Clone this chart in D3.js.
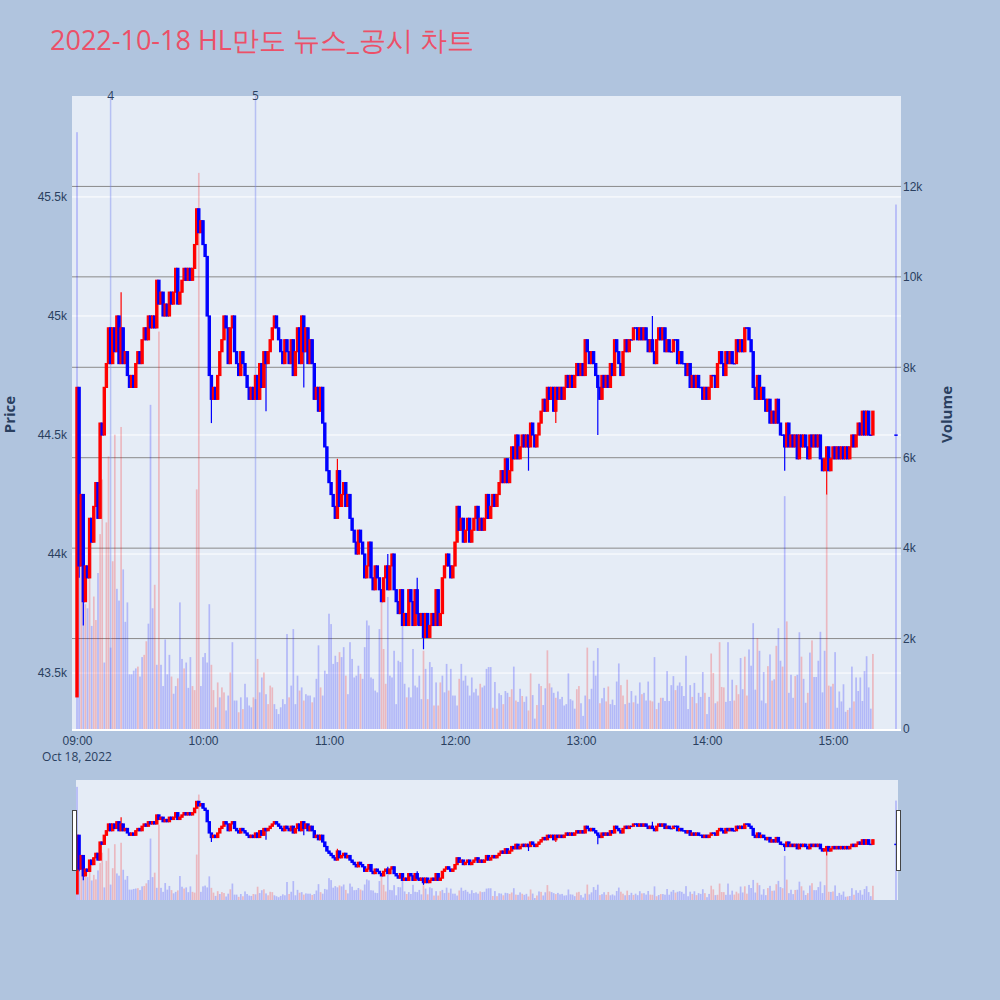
<!DOCTYPE html>
<html lang="ko">
<head>
<meta charset="UTF-8">
<title>HL만도 뉴스_공시 차트</title>
<script src="https://cdn.jsdelivr.net/npm/d3@7"></script>
<style>
    body { margin: 0; background: #b0c4de; }
    svg { display: block; font-family: "Open Sans", verdana, arial, sans-serif; }
</style>
</head>
<body>
<div id="chart"></div>
<script>
    // per-minute candles from 09:00, open = previous close
    const startTime = "2022-10-18 09:00";
    const firstOpen = 43400;
    const closes = [
        44700, 43950, 44250, 43800, 43950, 43900, 44150, 44050, 44200, 44300,
        44150, 44550, 44500, 44700, 44800, 44950, 44800, 44950, 44850, 45000,
        44800, 44950, 44800, 44850, 44750, 44700, 44750, 44700, 44800, 44850,
        44800, 44900, 44950, 44900, 45000, 44950, 45000, 44950, 45150, 45050,
        45100, 45000, 45050, 45000, 45100, 45050, 45100, 45200, 45050, 45100,
        45150, 45200, 45150, 45200, 45150, 45200, 45300, 45450, 45350, 45400,
        45300, 45250, 45000, 44750, 44650, 44700, 44650, 44750, 44850, 44900,
        45000, 44950, 44800, 44950, 45000, 44850, 44800, 44750, 44850, 44800,
        44750, 44700, 44650, 44700, 44650, 44750, 44650, 44800, 44700, 44850,
        44800, 44850, 44900, 44950, 45000, 44950, 44900, 44850, 44800, 44900,
        44850, 44800, 44900, 44750, 44850, 44950, 44800, 45000, 44850, 44950,
        44800, 44900, 44800, 44650, 44700, 44600, 44700, 44550, 44450, 44350,
        44300, 44250, 44200, 44150, 44350, 44200, 44250, 44300, 44200, 44250,
        44150, 44100, 44050, 44000, 44100, 44050, 44000, 43900, 43950, 44050,
        43900, 43850, 43950, 43900, 43850, 43800, 43900, 43950, 43850, 43950,
        44000, 43850, 43800, 43750, 43850, 43700, 43750, 43700, 43850, 43800,
        43700, 43850, 43750, 43700, 43750, 43650, 43750, 43650, 43700, 43750,
        43700, 43850, 43700, 43750, 43900, 43950, 44000, 43950, 43900, 43950,
        44050, 44200, 44100, 44150, 44050, 44100, 44150, 44050, 44100, 44150,
        44200, 44100, 44150, 44100, 44150, 44250, 44150, 44200, 44250, 44200,
        44250, 44300, 44350, 44300, 44400, 44300, 44350, 44450, 44400, 44500,
        44400, 44450, 44500, 44450, 44500, 44450, 44550, 44500, 44450, 44500,
        44550, 44600, 44650, 44600, 44700, 44650, 44700, 44600, 44700, 44650,
        44700, 44650, 44700, 44750, 44700, 44750, 44700, 44750, 44800, 44750,
        44800, 44750, 44900, 44850, 44800, 44850, 44800, 44750, 44700, 44650,
        44750, 44700, 44750, 44700, 44800, 44750, 44900, 44850, 44800, 44750,
        44850, 44900, 44850, 44900, 44900, 44950, 44950, 44900, 44950, 44900,
        44950, 44900, 44850, 44900, 44850, 44800, 44900, 44950, 44900, 44950,
        44850, 44900, 44850, 44850, 44900, 44900, 44800, 44850, 44800, 44800,
        44750, 44800, 44700, 44750, 44700, 44750, 44700, 44700, 44650, 44700,
        44650, 44700, 44750, 44750, 44700, 44800, 44850, 44800, 44750, 44850,
        44800, 44850, 44800, 44800, 44900, 44850, 44900, 44850, 44950, 44950,
        44900, 44850, 44700, 44650, 44750, 44650, 44700, 44650, 44600, 44650,
        44550, 44600, 44550, 44650, 44550, 44500, 44500, 44450, 44550, 44450,
        44500, 44450, 44500, 44400, 44500, 44450, 44500, 44450, 44400, 44500,
        44450, 44500, 44450, 44500, 44400, 44350, 44400, 44450, 44350, 44400,
        44450, 44400, 44450, 44400, 44450, 44400, 44450, 44400, 44450, 44500,
        44450, 44500, 44550, 44500, 44600, 44500, 44600, 44500, 44500, 44600
    ];
    const volumes = [
        13200, 6980, 5170, 3450, 2760, 2670, 3530, 2280, 2930, 2410,
        3450, 4310, 5520, 1470, 4570, 6030, 1800, 3710, 6510, 3100,
        2840, 6680, 3530, 2370, 2800, 1210, 1210, 1290, 1340, 1380,
        1160, 1590, 1640, 1940, 2330, 7170, 2670, 3190, 1420, 8790,
        1420, 950, 1980, 1210, 1640, 1160, 780, 950, 1120, 2800,
        1550, 1340, 1470, 910, 1590, 950, 860, 5300, 12300, 950,
        1590, 1680, 1470, 2760, 1420, 860, 480, 1030, 700, 920,
        810, 410, 740, 1250, 1920, 630, 630, 370, 700, 440,
        1000, 700, 520, 480, 700, 660, 1550, 810, 1140, 1250,
        770, 550, 960, 920, 550, 440, 330, 480, 660, 550,
        2100, 700, 960, 2210, 550, 1180, 850, 920, 630, 770,
        740, 740, 590, 700, 1110, 1850, 920, 740, 1290, 1220,
        2550, 2320, 1440, 1620, 1480, 1700, 1590, 1810, 1180, 770,
        1920, 1550, 1140, 1180, 1400, 1220, 1110, 1810, 2400, 2290,
        1140, 1110, 850, 810, 2210, 2880, 1770, 1000, 2920, 1180,
        1140, 1730, 550, 1510, 1480, 2400, 1000, 700, 920, 700,
        1770, 960, 920, 1180, 660, 1730, 1330, 660, 1480, 1370,
        520, 1030, 520, 1030, 1180, 810, 1440, 850, 1330, 740,
        740, 520, 1110, 1440, 1070, 1180, 960, 740, 1140, 810,
        890, 740, 1000, 920, 960, 1330, 1370, 1370, 470, 1040,
        450, 790, 750, 550, 840, 800, 710, 880, 1380, 630,
        600, 890, 730, 600, 720, 410, 1230, 750, 230, 530,
        1000, 950, 530, 900, 1740, 1010, 920, 800, 690, 830,
        660, 710, 520, 550, 1230, 660, 630, 450, 880, 950,
        570, 290, 740, 1800, 660, 890, 1510, 1180, 1790, 570,
        680, 910, 610, 940, 550, 650, 530, 1050, 1450, 970,
        740, 550, 1090, 580, 840, 590, 740, 560, 1030, 770,
        800, 630, 1050, 630, 610, 1590, 440, 580, 690, 690,
        620, 1280, 620, 970, 1170, 860, 960, 1030, 950, 730,
        1620, 440, 970, 710, 1020, 570, 800, 710, 1260, 800,
        330, 710, 1670, 1240, 570, 610, 1920, 930, 920, 600,
        1920, 620, 1090, 630, 970, 770, 1570, 880, 1600, 740,
        1760, 1400, 2340, 870, 2010, 1730, 630, 1260, 570, 1390,
        1650, 1070, 1100, 1840, 2230, 1510, 1380, 5150, 2380, 800,
        1200, 690, 1170, 1200, 2140, 1600, 1110, 580, 800, 1690,
        1960, 1150, 1150, 1510, 2150, 810, 1730, 5200, 960, 940,
        1000, 1700, 470, 830, 610, 990, 380, 420, 470, 1380,
        610, 1140, 840, 1140, 620, 1280, 1610, 920, 450, 1660
    ];
    // minutes whose volume bar is drawn red (the rest are blue)
    const volumeUp = [
        2, 4, 6, 8, 9, 11, 12, 14, 15, 17, 18, 21, 29, 32, 33, 37, 39, 45, 48, 51,
        55, 56, 57, 58, 64, 65, 67, 69, 70, 73, 77, 79, 84, 86, 89, 91, 92, 93, 101, 106,
        108, 112, 116, 125, 128, 135, 145, 146, 147, 157, 165, 167, 170, 172, 173, 177, 182, 192,
        198, 200, 203, 206, 207, 209, 212, 215, 216, 219, 221, 224, 225, 228, 238, 239, 243,
        249, 252, 253, 259, 260, 262, 265, 269, 273, 274, 276, 278, 285, 293, 295, 299, 302,
        303, 305, 306, 307, 308, 313, 314, 315, 318, 319, 324, 329, 331, 333, 336, 338, 342,
        345, 348, 350, 357, 358, 360, 367, 370, 379
    ];
    // [minute index, high, low] where the wick goes past the body
    const wicks = [
        [1, 44700, 43900], [3, 44250, 43700], [21, 45100, 44800], [64, 44750, 44550],
        [90, 44850, 44600], [108, 45000, 44700], [124, 44400, 44150], [148, 44000, 43850],
        [162, 43900, 43700], [165, 43750, 43600], [215, 44500, 44350], [228, 44700, 44550],
        [248, 44750, 44500], [274, 45000, 44850], [337, 44500, 44350], [357, 44450, 44250]
    ];
    const auction = {time: "15:30", open: 44500, close: 44500, volume: 11600};
    const newsMarks = [{time: "09:16", label: "4"}, {time: "10:25", label: "5"}];
    const priceTicks = [43500, 44000, 44500, 45000, 45500];
    const volumeTicks = [0, 2000, 4000, 6000, 8000, 10000, 12000];
    const hourTicks = ["09:00", "10:00", "11:00", "12:00", "13:00", "14:00", "15:00"];

    const width = 1000, height = 1000;
    const plot = {left: 72, right: 901, top: 96, bottom: 729};
    const slider = {left: 76, right: 898, top: 780, bottom: 900};
    const textColor = "#2a3f5f";
    const upColor = "#ff0000", downColor = "#0000ff";

    const parse = d3.timeParse("%Y-%m-%d %H:%M");
    const t0 = parse(startTime);
    const atTime = s => parse("2022-10-18 " + s);

    const wickMap = new Map(wicks.map(w => [w[0], w]));
    const upSet = new Set(volumeUp);
    const candles = closes.map((c, i) => {
        const o = i === 0 ? firstOpen : closes[i - 1];
        const w = wickMap.get(i);
        return {
            t: d3.timeMinute.offset(t0, i), o: o, c: c, v: volumes[i], vUp: upSet.has(i),
            h: Math.max(o, c, w ? w[1] : -Infinity),
            l: Math.min(o, c, w ? w[2] : Infinity)
        };
    });
    candles.push({
        t: atTime(auction.time), o: auction.open, c: auction.close, v: auction.volume, vUp: false,
        h: Math.max(auction.open, auction.close), l: Math.min(auction.open, auction.close)
    });

    const x = d3.scaleTime()
        .domain([d3.timeSecond.offset(t0, -143), d3.timeSecond.offset(t0, 23543)])
        .range([plot.left, plot.right]);
    const yPrice = d3.scaleLinear().domain([43265, 45924]).range([plot.bottom, plot.top]);
    const yVol = d3.scaleLinear().domain([0, 14000]).range([plot.bottom, plot.top]);
    const ysPrice = d3.scaleLinear().domain([43265, 45924]).range([slider.bottom, slider.top]);
    const ysVol = d3.scaleLinear().domain([0, 14000]).range([slider.bottom, slider.top]);

    const colorOf = d => d.c > d.o ? upColor : downColor;
    const volColor = d => d.vUp ? upColor : downColor;
    const fmtK = d3.format("~s");

    const svg = d3.select("#chart").append("svg")
        .attr("width", width)
        .attr("height", height);

    svg.append("rect").attr("width", width).attr("height", height).attr("fill", "#b0c4de");

    // title
    svg.append("text")
        .attr("x", 50).attr("y", 50)
        .attr("font-size", 27)
        .attr("fill", "#ec5068")
        .text("2022-10-18 HL만도 뉴스_공시 차트");

    const defs = svg.append("defs");
    defs.append("clipPath").attr("id", "plotClip").append("rect")
        .attr("x", plot.left).attr("y", plot.top)
        .attr("width", plot.right - plot.left).attr("height", plot.bottom - plot.top);
    defs.append("clipPath").attr("id", "sliderClip").append("rect")
        .attr("x", slider.left).attr("y", slider.top)
        .attr("width", slider.right - slider.left).attr("height", slider.bottom - slider.top);

    // main plot background + grids
    svg.append("rect")
        .attr("x", plot.left).attr("y", plot.top)
        .attr("width", plot.right - plot.left).attr("height", plot.bottom - plot.top)
        .attr("fill", "#e5ecf6");

    svg.append("g").selectAll("line")
        .data(priceTicks)
        .enter().append("line")
        .attr("x1", plot.left).attr("x2", plot.right)
        .attr("y1", d => yPrice(d)).attr("y2", d => yPrice(d))
        .attr("stroke", "#fff").attr("stroke-width", 1);

    svg.append("g").selectAll("line")
        .data(volumeTicks.filter(d => d > 0))
        .enter().append("line")
        .attr("x1", plot.left).attr("x2", plot.right)
        .attr("y1", d => yVol(d)).attr("y2", d => yVol(d))
        .attr("stroke", "#8a8a8a").attr("stroke-width", 1);

    const main = svg.append("g").attr("clip-path", "url(#plotClip)");

    // volume bars
    main.append("g").selectAll("rect")
        .data(candles)
        .enter().append("rect")
        .attr("x", d => x(d.t) - 0.85)
        .attr("width", 1.7)
        .attr("y", d => yVol(d.v))
        .attr("height", d => yVol(0) - yVol(d.v))
        .attr("fill", volColor)
        .attr("fill-opacity", 0.22);

    // news markers
    main.append("g").selectAll("line")
        .data(newsMarks)
        .enter().append("line")
        .attr("x1", d => x(atTime(d.time))).attr("x2", d => x(atTime(d.time)))
        .attr("y1", plot.top).attr("y2", plot.bottom)
        .attr("stroke", "#7d8cf0").attr("stroke-opacity", 0.45).attr("stroke-width", 1.5);

    function drawCandles(g, ys, bodyW) {
        g.append("g").selectAll("line")
            .data(candles)
            .enter().append("line")
            .attr("x1", d => x(d.t)).attr("x2", d => x(d.t))
            .attr("y1", d => ys(d.h)).attr("y2", d => ys(d.l))
            .attr("stroke", colorOf).attr("stroke-width", 1.2);
        g.append("g").selectAll("rect")
            .data(candles)
            .enter().append("rect")
            .attr("x", d => x(d.t) - bodyW / 2)
            .attr("width", bodyW)
            .attr("y", d => ys(Math.max(d.o, d.c)))
            .attr("height", d => Math.max(ys(Math.min(d.o, d.c)) - ys(Math.max(d.o, d.c)), 0.3))
            .attr("fill", colorOf)
            .attr("stroke", colorOf).attr("stroke-width", 1.2);
    }
    drawCandles(main, yPrice, 2.2);

    // volume zero line
    svg.append("line")
        .attr("x1", plot.left).attr("x2", plot.right)
        .attr("y1", yVol(0) + 1).attr("y2", yVol(0) + 1)
        .attr("stroke", "#fff").attr("stroke-width", 2);

    svg.selectAll(".newsLabel")
        .data(newsMarks)
        .enter().append("text")
        .attr("class", "newsLabel")
        .attr("x", d => x(atTime(d.time)))
        .attr("y", plot.top)
        .attr("dy", "0.35em")
        .attr("text-anchor", "middle")
        .attr("font-size", 12)
        .attr("fill", textColor)
        .text(d => d.label);

    // axes
    const xAxis = svg.append("g")
        .attr("transform", `translate(0,${plot.bottom + 4})`)
        .call(d3.axisBottom(x)
            .tickValues(hourTicks.map(atTime))
            .tickFormat(d3.timeFormat("%H:%M"))
            .tickSize(0));
    xAxis.select(".domain").remove();
    xAxis.selectAll("text").attr("font-size", 12).attr("fill", textColor)
        .attr("font-family", null);

    svg.append("text")
        .attr("x", x(t0)).attr("y", 761)
        .attr("text-anchor", "middle")
        .attr("font-size", 12)
        .attr("fill", textColor)
        .text("Oct 18, 2022");

    const yAxisL = svg.append("g")
        .attr("transform", `translate(${plot.left - 2},0)`)
        .call(d3.axisLeft(yPrice).tickValues(priceTicks).tickFormat(fmtK).tickSize(0));
    yAxisL.select(".domain").remove();
    yAxisL.selectAll("text").attr("font-size", 12).attr("fill", textColor).attr("font-family", null);

    const yAxisR = svg.append("g")
        .attr("transform", `translate(${plot.right - 1},0)`)
        .call(d3.axisRight(yVol).tickValues(volumeTicks).tickFormat(fmtK).tickSize(0));
    yAxisR.select(".domain").remove();
    yAxisR.selectAll("text").attr("font-size", 12).attr("fill", textColor).attr("font-family", null);

    svg.append("text")
        .attr("transform", `translate(15,${(plot.top + plot.bottom) / 2 + 2}) rotate(-90)`)
        .attr("text-anchor", "middle")
        .attr("font-size", 15).attr("font-weight", "bold")
        .attr("fill", textColor)
        .text("Price");

    svg.append("text")
        .attr("transform", `translate(952,${(plot.top + plot.bottom) / 2 + 2}) rotate(-90)`)
        .attr("text-anchor", "middle")
        .attr("font-size", 15).attr("font-weight", "bold")
        .attr("fill", textColor)
        .text("Volume");

    // range slider
    svg.append("rect")
        .attr("x", slider.left).attr("y", slider.top)
        .attr("width", slider.right - slider.left).attr("height", slider.bottom - slider.top)
        .attr("fill", "#e5ecf6");

    const mini = svg.append("g").attr("clip-path", "url(#sliderClip)");
    mini.append("g").selectAll("rect")
        .data(candles)
        .enter().append("rect")
        .attr("x", d => x(d.t) - 0.85)
        .attr("width", 1.7)
        .attr("y", d => ysVol(d.v))
        .attr("height", d => ysVol(0) - ysVol(d.v))
        .attr("fill", volColor)
        .attr("fill-opacity", 0.22);
    drawCandles(mini, ysPrice, 2.2);

    svg.append("g").selectAll("rect")
        .data([slider.left - 2, slider.right])
        .enter().append("rect")
        .attr("x", d => d - 1.5)
        .attr("y", 810.5)
        .attr("width", 4)
        .attr("height", 60)
        .attr("fill", "#fff")
        .attr("stroke", "#444")
        .attr("stroke-width", 1);
</script>
</body>
</html>
